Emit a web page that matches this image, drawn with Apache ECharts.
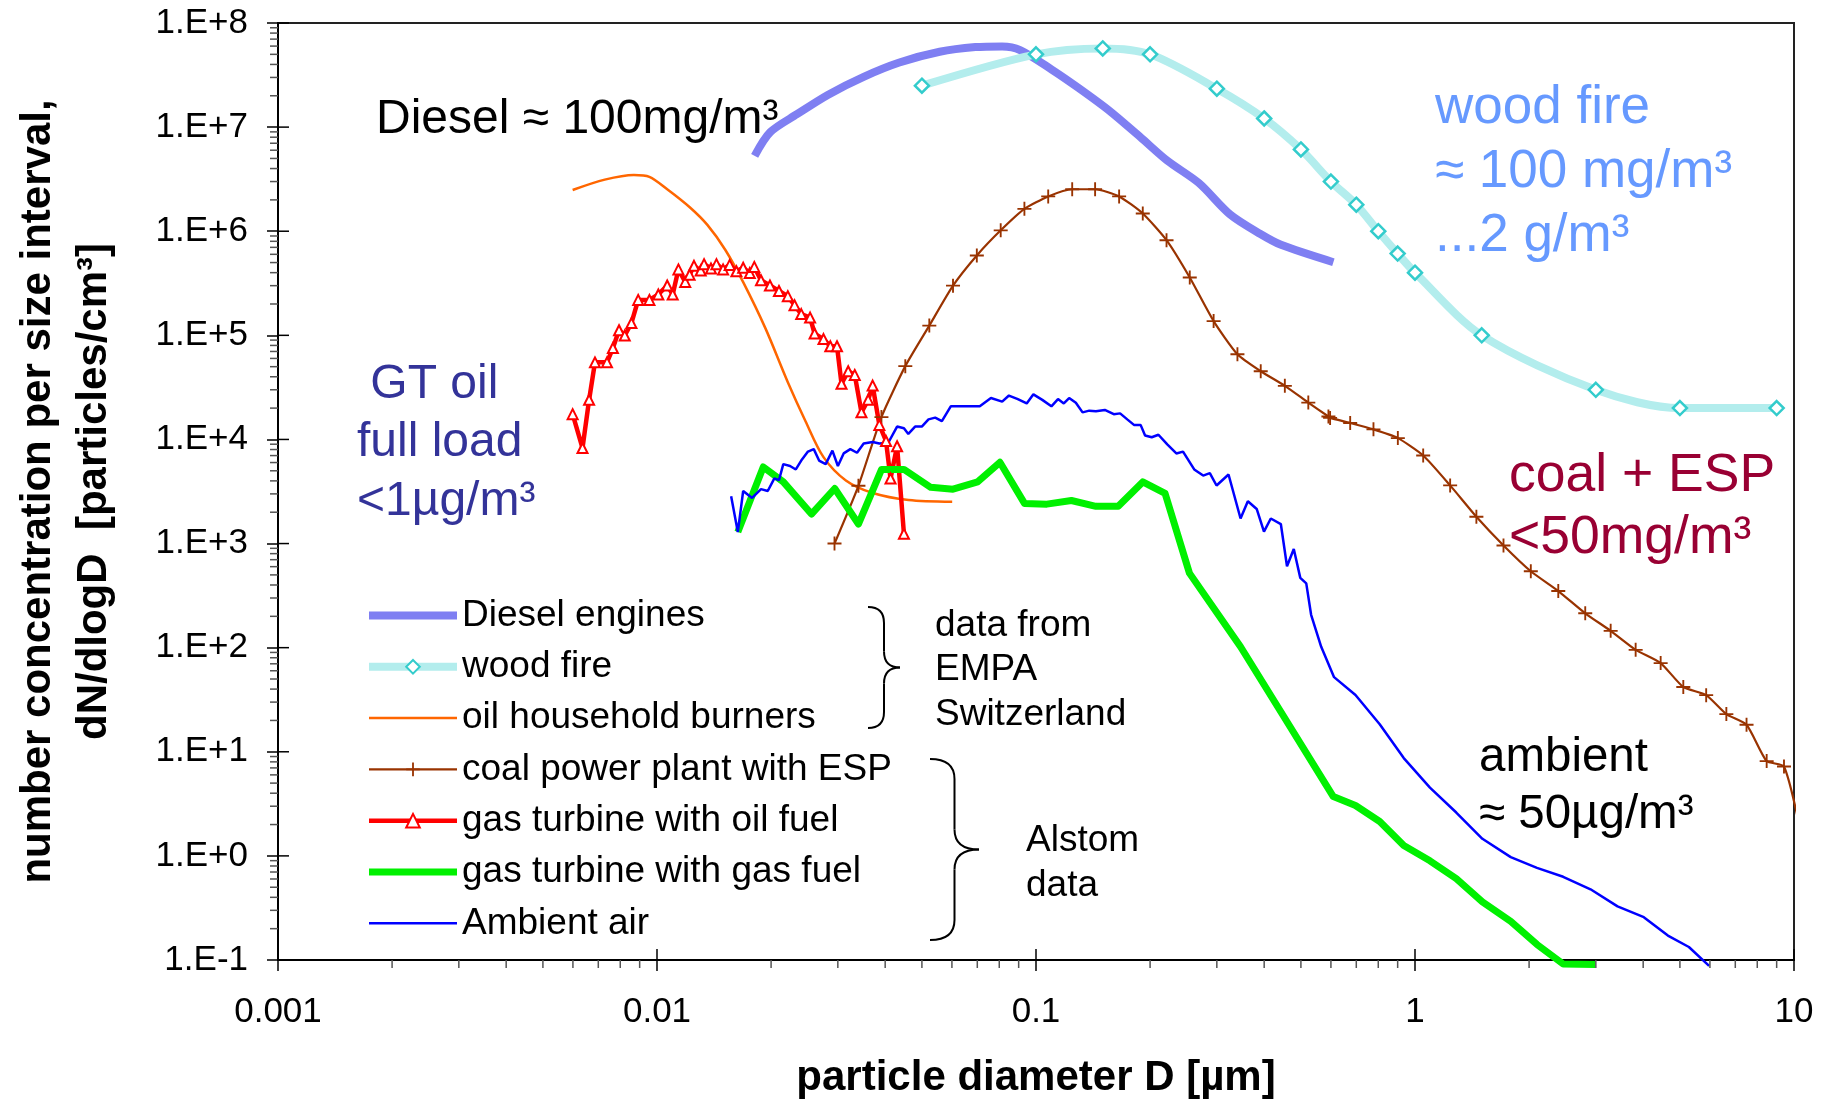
<!DOCTYPE html>
<html>
<head>
<meta charset="utf-8">
<title>Particle size distributions</title>
<script src="https://cdn.jsdelivr.net/npm/echarts@6.0.0/dist/echarts.min.js"></script>
<style>
  html, body { margin: 0; padding: 0; background: #fff; }
  #chart { width: 1832px; height: 1099px; }
</style>
</head>
<body>
<div id="chart"></div>
<script>
// ========== axis ticks ==========
const xTickLabels = ['0.001', '0.01', '0.1', '1', '10'];          // 10^-3 .. 10^1
const yTickLabels = ['1.E-1', '1.E+0', '1.E+1', '1.E+2', '1.E+3',
                     '1.E+4', '1.E+5', '1.E+6', '1.E+7', '1.E+8']; // 10^-1 .. 10^8
const minorSteps = [2, 3, 4, 5, 6, 7, 8, 9];

// ========== series: particle diameter D [µm] / dN/dlogD ==========
// Diesel engines (EMPA)
const dieselD = [0.0181, 0.0199, 0.0234, 0.0283, 0.0351, 0.0436, 0.0557, 0.0692, 0.0814, 0.0908,
                 0.110, 0.129, 0.156, 0.189, 0.222, 0.269, 0.325, 0.391, 0.443, 0.609];
const dieselN = [5.3e6, 8.95e6, 1.33e7, 2.05e7, 3.04e7, 4.17e7, 5.29e7, 5.87e7, 5.96e7, 5.5e7,
                 3.57e7, 2.40e7, 1.44e7, 7.94e6, 4.76e6, 2.9e6, 1.45e6, 9.4e5, 7.4e5, 5.04e5];

// wood fire (EMPA)
const woodD = [0.05, 0.1, 0.15, 0.2, 0.3, 0.4, 0.5, 0.6, 0.7, 0.8, 0.9, 1, 1.5, 3, 5, 9];
const woodN = [2.5e7, 5.0e7, 5.7e7, 5.0e7, 2.34e7, 1.21e7, 6.1e6, 3.0e6, 1.8e6, 1.0e6,
               6.1e5, 4.0e5, 1.0e5, 3.0e4, 2.0e4, 2.0e4];

// oil household burners (EMPA)
const oilBurnerD = [0.00599, 0.00728, 0.00869, 0.00955, 0.01064, 0.0122, 0.01358, 0.01515, 0.01688,
                    0.01934, 0.02214, 0.02467, 0.0275, 0.0315, 0.0371, 0.0461, 0.0601];
const oilBurnerN = [2.49e6, 3.13e6, 3.47e6, 3.33e6, 2.53e6, 1.70e6, 1.15e6, 6.6e5, 3.24e5,
                    1.16e5, 3.55e4, 1.49e4, 6.76e3, 4.04e3, 3.06e3, 2.62e3, 2.52e3];

// coal power plant with ESP (Alstom)
const coalD = [0.0294, 0.034, 0.0391, 0.0452, 0.0523, 0.0604, 0.0698, 0.0807, 0.0932, 0.1077,
               0.1246, 0.1432, 0.1657, 0.1913, 0.221, 0.2545, 0.2942, 0.34, 0.3917, 0.4535,
               0.523, 0.591, 0.597, 0.6745, 0.777, 0.901, 1.051, 1.238, 1.452, 1.712,
               2.021, 2.388, 2.813, 3.283, 3.821, 4.448, 5.104, 5.865, 6.63, 7.495,
               8.47, 9.41, 10.4];
const coalN = [1.0e3, 3.59e3, 1.64e4, 5.06e4, 1.24e5, 3.0e5, 5.85e5, 1.02e6, 1.64e6, 2.16e6,
               2.53e6, 2.53e6, 2.16e6, 1.48e6, 8.2e5, 3.59e5, 1.37e5, 6.58e4, 4.52e4, 3.27e4,
               2.26e4, 1.66e4, 1.61e4, 1.44e4, 1.25e4, 1.03e4, 7.02e3, 3.62e3, 1.81e3, 959,
               542, 350, 214, 145, 95.3, 71.1, 41.9, 35.0, 23.0, 18.2,
               8.14, 7.22, 1.75];

// gas turbine with oil fuel (Alstom)
const gtOilD = [0.00599, 0.00636, 0.00662, 0.00686, 0.00738, 0.00765, 0.00794, 0.00822, 0.00856, 0.00892,
                0.00955, 0.01008, 0.01064, 0.0110, 0.01139, 0.01187, 0.01219, 0.01252, 0.01304, 0.01331,
                0.01388, 0.01435, 0.01494, 0.01555, 0.0162, 0.01688, 0.01757, 0.01806, 0.01881, 0.01986,
                0.02098, 0.02214, 0.02306, 0.02402, 0.02535, 0.02605, 0.0275, 0.02866, 0.02985, 0.03068,
                0.03195, 0.03325, 0.03463, 0.03607, 0.03707, 0.03861, 0.0402, 0.04132, 0.0430, 0.04483];
const gtOilN = [1.75e4, 8.27e3, 2.4e4, 5.5e4, 5.5e4, 7.55e4, 1.12e5, 9.96e4, 1.31e5, 2.19e5,
                2.19e5, 2.47e5, 3.01e5, 2.47e5, 4.3e5, 3.26e5, 3.81e5, 4.65e5, 4.19e5, 4.83e5,
                4.39e5, 4.83e5, 4.3e5, 4.75e5, 4.13e5, 4.46e5, 3.97e5, 4.54e5, 3.38e5, 3.01e5,
                2.67e5, 2.38e5, 1.95e5, 1.6e5, 1.48e5, 1.04e5, 9.2e4, 7.86e4, 7.86e4, 3.43e4,
                4.52e4, 4.17e4, 1.82e4, 2.4e4, 3.29e4, 1.38e4, 9.67e3, 4.22e3, 8.6e3, 1.24e3];

// gas turbine with gas fuel (Alstom)
const gtGasD = [0.01634, 0.01907, 0.02154, 0.02556, 0.02944, 0.034, 0.03913, 0.04483, 0.05274, 0.0604,
                0.07014, 0.08031, 0.09325, 0.1068, 0.124, 0.1439, 0.1648, 0.1913, 0.2191, 0.254,
                0.3465, 0.4535, 0.6087, 0.6966, 0.807, 0.934, 1.095, 1.285, 1.506, 1.789,
                2.098, 2.46, 2.99];
const gtGasN = [1.29e3, 5.44e3, 3.91e3, 1.92e3, 3.38e3, 1.54e3, 5.15e3, 5.15e3, 3.47e3, 3.33e3,
                3.91e3, 6.03e3, 2.43e3, 2.39e3, 2.59e3, 2.28e3, 2.28e3, 3.91e3, 3.03e3, 520,
                102, 21.0, 3.71, 3.05, 2.14, 1.26, 0.897, 0.605, 0.362, 0.235,
                0.141, 0.0914, 0.0906];

// Ambient air (Alstom)
const ambientD = [0.01569, 0.01634, 0.01688, 0.01782, 0.01881, 0.0196, 0.0204, 0.02098, 0.02154, 0.02244,
                  0.02324, 0.02402, 0.02502, 0.02592, 0.02677, 0.02787, 0.02903, 0.03001, 0.03108, 0.03237,
                  0.03371, 0.0351, 0.03707, 0.03861, 0.04076, 0.043, 0.04483, 0.04604, 0.04797, 0.04997,
                  0.05204, 0.0542, 0.05645, 0.05958, 0.06378, 0.07107, 0.07606, 0.08142, 0.08483, 0.08954,
                  0.09451, 0.09843, 0.1039, 0.1098, 0.1143, 0.1184, 0.1223, 0.1274, 0.1327, 0.1382,
                  0.1439, 0.1519, 0.1604, 0.1667, 0.1741, 0.1813, 0.1888, 0.194, 0.202, 0.2104,
                  0.222, 0.2346, 0.2443, 0.2615, 0.2761, 0.2875, 0.2995, 0.3221, 0.3465, 0.3622,
                  0.3822, 0.3995, 0.4164, 0.4426, 0.4595, 0.4788, 0.4981, 0.5165, 0.532, 0.5656,
                  0.6116, 0.6966, 0.807, 0.934, 1.095, 1.285, 1.506, 1.789, 2.098, 2.46,
                  2.905, 3.423, 4.015, 4.648, 5.28, 5.97];
const ambientN = [2.85e3, 1.29e3, 3.2e3, 2.74e3, 3.33e3, 3.2e3, 4.22e3, 4.06e3, 5.79e3, 5.56e3,
                  5.15e3, 6.27e3, 7.64e3, 8.07e3, 6.27e3, 5.79e3, 7.82e3, 5.56e3, 7.34e3, 8.07e3,
                  7.45e3, 9.15e3, 9.46e3, 9.15e3, 9.3e3, 1.33e4, 1.28e4, 1.13e4, 1.33e4, 1.33e4,
                  1.56e4, 1.62e4, 1.5e4, 2.08e4, 2.08e4, 2.08e4, 2.5e4, 2.31e4, 2.64e4, 2.44e4,
                  2.22e4, 2.71e4, 2.4e4, 2.08e4, 2.44e4, 2.22e4, 2.5e4, 2.25e4, 1.82e4, 1.89e4,
                  1.87e4, 1.92e4, 1.75e4, 1.78e4, 1.56e4, 1.38e4, 1.38e4, 1.09e4, 1.05e4, 1.11e4,
                  8.95e3, 7.34e3, 7.64e3, 5.15e3, 4.5e3, 4.75e3, 3.61e3, 4.61e3, 1.74e3, 2.55e3,
                  2.15e3, 1.3e3, 1.74e3, 1.54e3, 605, 885, 468, 415, 207, 102,
                  52.1, 35.1, 18.4, 8.7, 4.52, 2.61, 1.46, 0.972, 0.767, 0.63,
                  0.478, 0.327, 0.258, 0.1715, 0.1333, 0.0878];

// ========== helpers ==========
const FONT = "'Liberation Sans', Arial, sans-serif";
const zip = (xs, ys) => xs.map((x, i) => [x, ys[i]]);
const PLUS = 'path://M6.5,0 H8.5 V6.5 H15 V8.5 H8.5 V15 H6.5 V8.5 H0 V6.5 H6.5 Z';

// axis tick positions (minor 2..9 per decade, major at each power of ten)
const xExp0 = -3, yExp0 = -1;
const xTickData = [];
xTickLabels.forEach((_, i) => {
  const base = Math.pow(10, xExp0 + i);
  xTickData.push([base, 0.1, 1]);
  if (i < xTickLabels.length - 1) minorSteps.forEach(m => xTickData.push([m * base, 0.1, 0]));
});
const yTickData = [];
yTickLabels.forEach((_, i) => {
  const base = Math.pow(10, yExp0 + i);
  yTickData.push([0.001, base, 1]);
  if (i < yTickLabels.length - 1) minorSteps.forEach(m => yTickData.push([0.001, m * base, 0]));
});

const tickRenderer = (axis) => (params, api) => {
  const p = api.coord([api.value(0), api.value(1)]);
  const major = api.value(2) === 1;
  let shape;
  if (axis === 'x') {
    shape = major ? { x1: p[0], y1: p[1] - 11, x2: p[0], y2: p[1] }
                  : { x1: p[0], y1: p[1], x2: p[0], y2: p[1] + 8 };
  } else {
    shape = major ? { x1: p[0], y1: p[1], x2: p[0] + 11, y2: p[1] }
                  : { x1: p[0] - 8, y1: p[1], x2: p[0], y2: p[1] };
  }
  return { type: 'line', shape, style: { stroke: major ? '#000' : '#555', lineWidth: 1.5 } };
};

// annotation text block (top-left anchored)
const note = (text, x, top, size, color, lineHeight) => ({
  type: 'text', x, y: top, silent: true,
  style: {
    text, fill: color, font: size + 'px ' + FONT, lineHeight,
    align: 'left', verticalAlign: 'top', textAlign: 'left', textVerticalAlign: 'top'
  }
});

// right-facing curly brace
const brace = (x0, yTop, yBot, w) => {
  const xm = x0 + w / 2, xt = x0 + w, ym = (yTop + yBot) / 2, r = Math.min(w / 2, 20);
  const st = { stroke: '#000', lineWidth: 2, fill: null };
  return [
    { type: 'bezierCurve', silent: true, shape: { x1: x0, y1: yTop, cpx1: xm, cpy1: yTop, x2: xm, y2: yTop + r }, style: st },
    { type: 'line', silent: true, shape: { x1: xm, y1: yTop + r, x2: xm, y2: ym - r }, style: st },
    { type: 'bezierCurve', silent: true, shape: { x1: xm, y1: ym - r, cpx1: xm, cpy1: ym, x2: xt, y2: ym }, style: st },
    { type: 'bezierCurve', silent: true, shape: { x1: xt, y1: ym, cpx1: xm, cpy1: ym, x2: xm, y2: ym + r }, style: st },
    { type: 'line', silent: true, shape: { x1: xm, y1: ym + r, x2: xm, y2: yBot - r }, style: st },
    { type: 'bezierCurve', silent: true, shape: { x1: xm, y1: yBot - r, cpx1: xm, cpy1: yBot, x2: x0, y2: yBot }, style: st }
  ];
};

const lineBase = { type: 'line', silent: true, animation: false, emphasis: { disabled: true } };

const chart = echarts.init(document.getElementById('chart'), null, { renderer: 'canvas' });
chart.setOption({
  backgroundColor: '#fff',
  animation: false,
  grid: {
    left: 278, right: 38, top: 23, bottom: 139,
    show: true, borderColor: '#222', borderWidth: 2,
    outerBoundsMode: 'none'
  },
  xAxis: {
    type: 'log', logBase: 10, min: 0.001, max: 10,
    name: 'particle diameter D [µm]',
    nameLocation: 'middle', nameGap: 97, nameMoveOverlap: false,
    nameTextStyle: { fontFamily: FONT, fontSize: 42, fontWeight: 'bold', color: '#000', lineHeight: 42 },
    axisLine: { lineStyle: { color: '#000', width: 2 } },
    axisTick: { length: 11, lineStyle: { color: '#000', width: 1.5 } },
    axisLabel: {
      fontFamily: FONT, fontSize: 35, color: '#000', margin: 35, lineHeight: 35,
      formatter: v => xTickLabels[Math.round(Math.log10(v)) - xExp0] || ''
    },
    splitLine: { show: false }
  },
  yAxis: {
    type: 'log', logBase: 10, min: 0.1, max: 1e8,
    name: 'number concentration per size interval,\ndN/dlogD  [particles/cm³]',
    nameLocation: 'middle', nameRotate: 90, nameGap: 156, nameMoveOverlap: false,
    nameTextStyle: { fontFamily: FONT, fontSize: 42, fontWeight: 'bold', color: '#000', lineHeight: 56 },
    axisLine: { lineStyle: { color: '#000', width: 2 } },
    axisTick: { length: 11, lineStyle: { color: '#000', width: 1.5 } },
    axisLabel: {
      fontFamily: FONT, fontSize: 35, color: '#000', margin: 30,
      formatter: v => yTickLabels[Math.round(Math.log10(v)) - yExp0] || ''
    },
    splitLine: { show: false }
  },
  legend: {
    orient: 'vertical', left: 365, top: 597, padding: 0,
    itemWidth: 88, itemHeight: 17, itemGap: 14.3,
    selectedMode: false,
    textStyle: { fontFamily: FONT, fontSize: 37, color: '#000' },
    lineStyle: { width: 'inherit' },
    data: [
      { name: 'Diesel engines', itemStyle: { opacity: 0 } },
      { name: 'wood fire' },
      { name: 'oil household burners', itemStyle: { opacity: 0 } },
      { name: 'coal power plant with ESP' },
      { name: 'gas turbine with oil fuel' },
      { name: 'gas turbine with gas fuel', itemStyle: { opacity: 0 } },
      { name: 'Ambient air', itemStyle: { opacity: 0 } }
    ]
  },
  series: [
    Object.assign({}, lineBase, {
      name: 'Diesel engines', data: zip(dieselD, dieselN), symbol: 'none', smooth: 0.3,
      lineStyle: { color: '#7f7ff2', width: 8 }, itemStyle: { color: '#7f7ff2' }
    }),
    Object.assign({}, lineBase, {
      name: 'wood fire', data: zip(woodD, woodN), symbol: 'diamond', symbolSize: 14, smooth: 0.3,
      lineStyle: { color: '#b3eded', width: 8 },
      itemStyle: { color: '#fff', borderColor: '#33cccc', borderWidth: 2.5 }
    }),
    Object.assign({}, lineBase, {
      name: 'oil household burners', data: zip(oilBurnerD, oilBurnerN), symbol: 'none', smooth: 0.3,
      lineStyle: { color: '#ff6600', width: 2.5 }, itemStyle: { color: '#ff6600' }
    }),
    Object.assign({}, lineBase, {
      name: 'coal power plant with ESP', data: zip(coalD, coalN), symbol: PLUS, symbolSize: 14,
      showAllSymbol: true, smooth: 0.2,
      lineStyle: { color: '#993300', width: 2.2 }, itemStyle: { color: '#993300', borderWidth: 0 }
    }),
    Object.assign({}, lineBase, {
      name: 'gas turbine with oil fuel', data: zip(gtOilD, gtOilN), symbol: 'triangle', symbolSize: 10,
      showAllSymbol: true,
      lineStyle: { color: '#ff0000', width: 4.5, join: 'round' },
      itemStyle: { color: '#fff', borderColor: '#ff0000', borderWidth: 2 }
    }),
    Object.assign({}, lineBase, {
      name: 'gas turbine with gas fuel', data: zip(gtGasD, gtGasN), symbol: 'none', clip: false,
      lineStyle: { color: '#00f000', width: 7, join: 'round' }, itemStyle: { color: '#00f000' }
    }),
    Object.assign({}, lineBase, {
      name: 'Ambient air', data: zip(ambientD, ambientN), symbol: 'none', clip: false,
      lineStyle: { color: '#0000ff', width: 2.5 }, itemStyle: { color: '#0000ff' }
    }),
    {
      type: 'custom', name: 'x ticks', silent: true, animation: false, clip: false,
      coordinateSystem: 'cartesian2d', encode: { x: 0, y: 1 },
      data: xTickData, renderItem: tickRenderer('x'), z: 5
    },
    {
      type: 'custom', name: 'y ticks', silent: true, animation: false, clip: false,
      coordinateSystem: 'cartesian2d', encode: { x: 0, y: 1 },
      data: yTickData, renderItem: tickRenderer('y'), z: 5
    }
  ],
  graphic: [
    note('Diesel ≈ 100mg/m³', 376, 96, 48, '#000', 48),
    note('wood fire\n≈ 100 mg/m³\n...2 g/m³', 1435, 76, 53, '#6699ff', 64),
    note(' GT oil\nfull load\n<1µg/m³', 357, 355.5, 48, '#333399', 58.5),
    note('coal + ESP\n<50mg/m³', 1509, 445.5, 53.5, '#990033', 62),
    note('ambient\n≈ 50µg/m³', 1479, 729.5, 47.5, '#000', 57),
    note('data from\nEMPA\nSwitzerland', 935, 603.5, 37, '#000', 44.4),
    note('Alstom\ndata', 1026, 818, 37, '#000', 45.3)
  ].concat(brace(868, 607, 728, 32), brace(930, 759, 940, 49))
});
</script>
</body>
</html>
